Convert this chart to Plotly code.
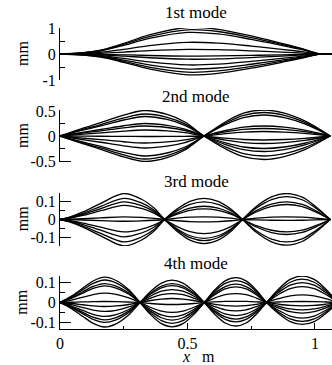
import plotly.graph_objects as go

# ---------------- data ----------------
# Panel 1 : 1st mode
X1 = [0, 0.08, 0.16, 0.25, 0.35, 0.5, 0.62, 0.75, 0.87, 0.95, 1.02, 1.07]
S1 = [0, 0.04, 0.15, 0.4, 0.72, 1.0, 0.93, 0.68, 0.4, 0.2, 0, 0]
L1 = [0] * 12
PEAKS1 = [[1.02], [0.93], [0.83], [0.45], [0.18], [-0.08], [-0.2], [-0.42], [-0.58], [-0.7], [-0.8]]

# Panel 2 : 2nd mode
X2 = [0, 0.08, 0.16, 0.25, 0.33, 0.42, 0.49, 0.565, 0.65, 0.72, 0.8, 0.88, 0.96, 1.06]
S2 = [0, 0.27, 0.52, 0.82, 1, 0.85, 0.55, 0, 0.55, 0.88, 1, 0.88, 0.58, 0]
L2 = [0] * 7 + [1] * 7
PEAKS2 = [[0.51, -0.47], [0.44, -0.4], [0.39, -0.31], [0.25, -0.25], [0.2, -0.15], [0.12, -0.08],
          [-0.01, 0.09], [-0.14, 0.15], [-0.24, 0.2], [-0.4, 0.42], [-0.46, 0.47], [-0.51, 0.52]]

# Panel 3 : 3rd mode
X3 = [0, 0.04, 0.09, 0.16, 0.25, 0.32, 0.37, 0.41, 0.46, 0.51, 0.565, 0.62, 0.67,
      0.716, 0.77, 0.83, 0.89, 0.95, 1.0, 1.06]
S3 = [0, 0.1, 0.29, 0.62, 1, 0.78, 0.43, 0, 0.5, 0.86, 1, 0.86, 0.5,
      0, 0.5, 0.87, 1, 0.86, 0.52, 0]
L3 = [0] * 7 + [1] * 6 + [2] * 7
PEAKS3 = [[0.147, -0.136, 0.147], [0.12, -0.12, 0.13], [0.1, -0.107, 0.1], [0.08, -0.08, 0.085],
          [0.015, -0.014, 0.015], [-0.01, 0.015, -0.005], [-0.07, 0.06, -0.07],
          [-0.098, 0.075, -0.085], [-0.127, 0.1, -0.127], [-0.149, 0.12, -0.145]]

# Panel 4 : 4th mode
X4 = [0, 0.045, 0.09, 0.13, 0.175, 0.22, 0.27, 0.314, 0.356, 0.398, 0.44, 0.482, 0.524,
      0.566, 0.607, 0.648, 0.69, 0.73, 0.77, 0.81, 0.857, 0.903, 0.95, 0.997, 1.043, 1.09]
S4 = [0, 0.25, 0.57, 0.85, 1, 0.87, 0.5, 0, 0.5, 0.87, 1, 0.87, 0.5,
      0, 0.5, 0.87, 1, 0.87, 0.5, 0, 0.5, 0.87, 1, 0.87, 0.5, 0]
L4 = [0] * 7 + [1] * 6 + [2] * 6 + [3] * 7
PEAKS4 = [[0.127, -0.122, 0.125, -0.11], [0.113, -0.105, 0.11, -0.095], [0.095, -0.088, 0.092, -0.078],
          [0.083, -0.072, 0.078, -0.053], [0.047, -0.05, 0.045, -0.037], [0.005, -0.01, 0.006, -0.017],
          [-0.02, 0.02, -0.018, 0.005], [-0.045, 0.045, -0.042, 0.038], [-0.07, 0.065, -0.066, 0.08],
          [-0.087, 0.085, -0.083, 0.1], [-0.1, 0.095, -0.097, 0.117], [-0.123, 0.112, -0.118, 0.133]]

TITLES = ["1st mode", "2nd mode", "3rd mode", "4th mode"]
Y_RANGES = [[-1, 1], [-0.52, 0.52], [-0.15, 0.15], [-0.133, 0.133]]
Y_MAJOR = [[-1, 0, 1], [-0.5, 0, 0.5], [-0.15, -0.1, 0, 0.1, 0.15], [-0.1, 0, 0.1]]
Y_MAJOR_TEXT = [["-1", "0", "1"], ["-0.5", "0", "0.5"], ["", "-0.1", "0", "0.1", ""], ["-0.1", "0", "0.1"]]
Y_MINOR = [[-0.5, 0.5], [-0.25, 0.25], [-0.05, 0.05], [-0.05, 0.05]]
X_MAJOR = [0, 0.5, 1]
X_MAJOR_TEXT = ["0", "0.5", "1"]
X_MINOR = [0.25, 0.75]
X_RANGE = [0, 1.067]

PANELS = [(X1, S1, L1, PEAKS1), (X2, S2, L2, PEAKS2), (X3, S3, L3, PEAKS3), (X4, S4, L4, PEAKS4)]

# ---------------- figure ----------------
W, H = 332, 365
ML, MR, MT, MB = 60, 0, 28, 36
PH = H - MT - MB
PIX = [(28, 80), (110, 162), (193, 246), (276, 329)]
ZERO_PIX = [54, 136, 219.3, 302.7]
TITLE_PIX = [12.5, 96, 181, 263.5]


def py(px):
    return (H - MB - px) / PH


FONT = "Liberation Serif"
fig = go.Figure()

for i, (X, S, L, PEAKS) in enumerate(PANELS):
    k = "" if i == 0 else str(i + 1)
    for row in PEAKS:
        yv = [row[L[j]] * S[j] for j in range(len(X))]
        fig.add_trace(go.Scatter(x=X, y=yv, mode="lines",
                                 line=dict(color="black", width=1.3, shape="spline", smoothing=1),
                                 xaxis="x" + k, yaxis="y" + k, showlegend=False, hoverinfo="skip"))
    bottom = i == 3
    fig.layout["xaxis" + k] = dict(
        domain=[0, 1], anchor="y" + k, range=X_RANGE, showgrid=False, zeroline=False,
        showline=bottom, linecolor="black", linewidth=1,
        ticks="inside" if bottom else "", ticklen=6, tickcolor="black",
        tickvals=X_MAJOR, ticktext=X_MAJOR_TEXT, showticklabels=bottom,
        tickfont=dict(family=FONT, size=16, color="black"),
        minor=dict(tickvals=X_MINOR, ticks="inside" if bottom else "", ticklen=3, tickcolor="black"),
    )
    top, bot = PIX[i]
    fig.layout["yaxis" + k] = dict(
        domain=[py(bot), py(top)], anchor="x" + k, range=Y_RANGES[i],
        showgrid=False, zeroline=False, showline=True, linecolor="black", linewidth=1,
        ticks="inside", ticklen=11, tickcolor="black",
        tickvals=Y_MAJOR[i], ticktext=Y_MAJOR_TEXT[i],
        tickfont=dict(family=FONT, size=16, color="black"),
        minor=dict(tickvals=Y_MINOR[i], ticks="inside", ticklen=5, tickcolor="black"),
    )
    fig.add_annotation(text=TITLES[i], xref="paper", yref="paper", x=0.5, y=py(TITLE_PIX[i]),
                       xanchor="center", yanchor="middle", showarrow=False,
                       font=dict(family=FONT, size=17, color="black"))
    fig.add_annotation(text="mm", xref="paper", yref="paper", x=(22 - ML) / (W - ML - MR),
                       y=py(ZERO_PIX[i]), xanchor="center", yanchor="middle", textangle=-90,
                       showarrow=False, font=dict(family=FONT, size=16, color="black"))

fig.add_annotation(text="<i>x</i>\u00a0\u00a0\u00a0m", xref="paper", yref="paper",
                   x=(198 - ML) / (W - ML - MR), y=py(356.5), xanchor="center", yanchor="middle",
                   showarrow=False, font=dict(family=FONT, size=16, color="black"))

fig.update_layout(width=W, height=H, margin=dict(l=ML, r=MR, t=MT, b=MB, pad=0),
                  paper_bgcolor="white", plot_bgcolor="white", showlegend=False,
                  font=dict(family=FONT, color="black"))

fig.write_html("out.html", config={"displayModeBar": False},
               post_script="document.body.style.margin='0';document.body.style.overflow='hidden';")
